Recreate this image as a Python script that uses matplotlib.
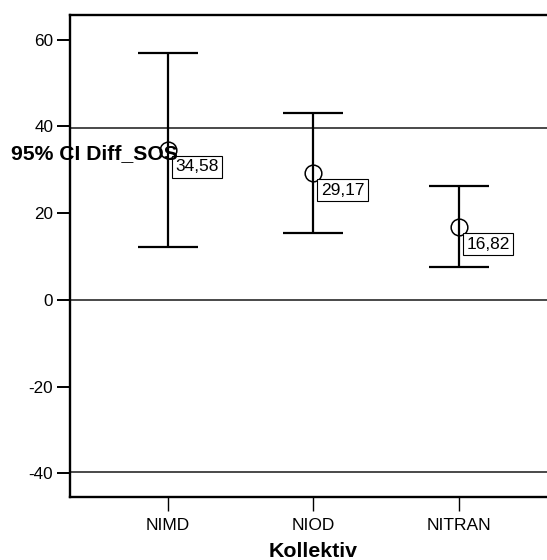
import matplotlib
matplotlib.use("Agg")
import matplotlib.pyplot as plt

# Group means with their 95% confidence intervals
groups = ["NIMD", "NIOD", "NITRAN"]
means = [34.58, 29.17, 16.82]
ci_lower = [12.3, 15.5, 7.5]
ci_upper = [56.9, 43.0, 26.2]
ref_lines = [39.6, 0.0, -39.6]
y_ticks = [-40, -20, 0, 20, 40, 60]

plt.rcParams['font.family'] = ['Liberation Sans', 'DejaVu Sans']

W, H = 547, 560
fig = plt.figure(figsize=(W / 100, H / 100), dpi=100)
left, right, top, bottom = 70, 556.4, 15, 497.3
ax = fig.add_axes([left / W, 1 - bottom / H, (right - left) / W, (bottom - top) / H])

x = list(range(1, len(groups) + 1))

for y in ref_lines:
    ax.axhline(y, color='#2a2a2a', lw=1.2, zorder=1)

err = [[m - lo for m, lo in zip(means, ci_lower)],
       [hi - m for m, hi in zip(means, ci_upper)]]
ax.errorbar(x, means, yerr=err, fmt='none', ecolor='black', elinewidth=1.6,
            capsize=21.5, capthick=1.6, zorder=3)
ax.plot(x, means, 'o', ms=12, mfc='none', mec='black', mew=1.1, zorder=4)

for xi, m in zip(x, means):
    ax.annotate(f"{m:.2f}".replace('.', ','), (xi, m), xytext=(7.5, -9.5),
                textcoords='offset pixels', ha='left', va='top', fontsize=12.5,
                bbox=dict(boxstyle='square,pad=0.2', fc='white', ec='black', lw=0.8),
                zorder=5)

ax.set_xlim(0.329, 3.671)
ax.set_ylim(-45.5, 65.7)
ax.set_xticks(x)
ax.set_xticklabels(groups)
ax.set_yticks(y_ticks)
ax.set_yticklabels([str(v) for v in y_ticks])

ax.tick_params(axis='y', length=9.5, width=1.4, pad=2.5, labelsize=12.3, direction='out')
ax.tick_params(axis='x', length=10, width=1.0, pad=5, labelsize=12.5, direction='out')
for s in ax.spines.values():
    s.set_linewidth(1.7)
    s.set_color('black')

fig.text(11 / W, 1 - 159.3 / H, '95% CI Diff_SOS', fontsize=15.2, fontweight='bold',
         ha='left', va='baseline', zorder=10)
fig.text(313 / W, 1 - 557 / H, 'Kollektiv', fontsize=15.4, fontweight='bold',
         ha='center', va='baseline')

fig.savefig('out.png', dpi=100)
